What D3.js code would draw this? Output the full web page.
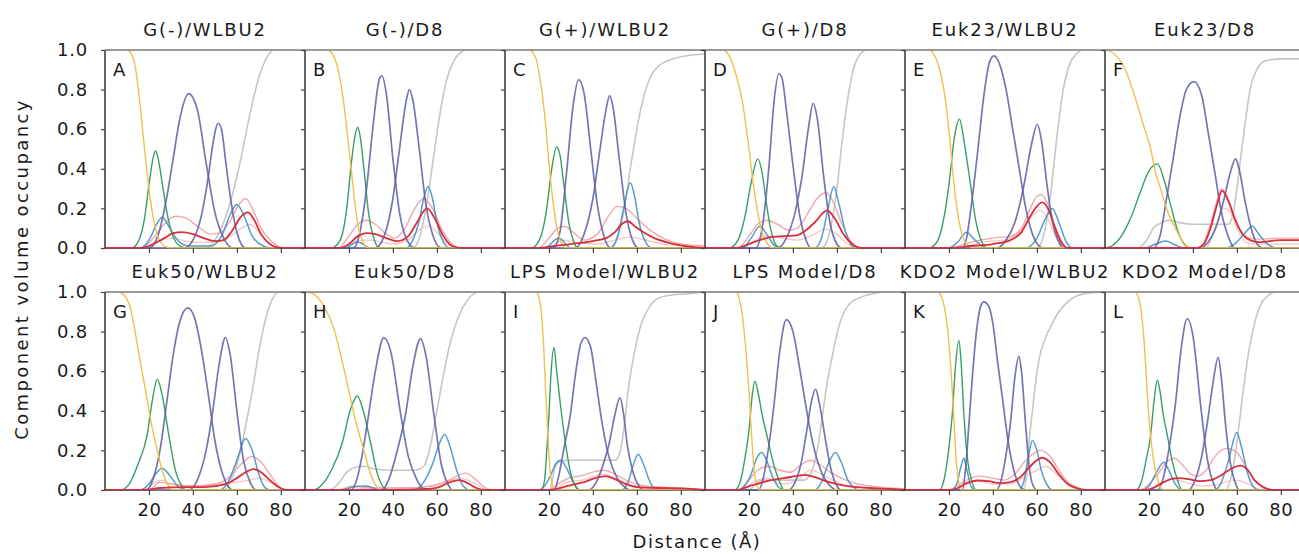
<!DOCTYPE html>
<html>
<head>
<meta charset="utf-8">
<script src="https://cdn.jsdelivr.net/npm/d3@7"></script>
<style>
body { margin: 0; background: #fff; }
text { font-family: "DejaVu Sans", sans-serif; fill: #1a1a1a; }
.axis path { display: none; }
.axis line { stroke: #444; stroke-width: 1.2; }
</style>
</head>
<body>
<div class="chart"></div>
<script>
// panel titles and letters, A..L
var titles = ["G(-)/WLBU2", "G(-)/D8", "G(+)/WLBU2", "G(+)/D8", "Euk23/WLBU2", "Euk23/D8",
              "Euk50/WLBU2", "Euk50/D8", "LPS Model/WLBU2", "LPS Model/D8", "KDO2 Model/WLBU2", "KDO2 Model/D8"];
var letters = ["A", "B", "C", "D", "E", "F", "G", "H", "I", "J", "K", "L"];
var xTicks = [20, 40, 60, 80];
var yTicks = [0, 0.2, 0.4, 0.6, 0.8, 1.0];

// each curve: [distance (A), occupancy], one entry per panel
var orangeCurves = [
  [[0,1],[10,1],[12,0.98],[14,0.9],[16,0.72],[18,0.5],[20,0.3],[22,0.15],[24,0.06],[27,0.01],[30,0],[91,0]],
  [[0,1],[10,1],[13,0.97],[16,0.85],[18,0.7],[20,0.5],[22,0.3],[24,0.12],[26,0.04],[29,0],[91,0]],
  [[0,1],[11,1],[14,0.96],[16,0.85],[18,0.68],[20,0.43],[22,0.22],[24,0.08],[26,0.02],[28,0],[91,0]],
  [[0,1],[8,1],[11,0.97],[14,0.88],[17,0.74],[20,0.5],[22,0.32],[24,0.18],[26,0.08],[28,0.03],[31,0],[91,0]],
  [[0,1],[11,1],[14,0.96],[16.5,0.87],[18.5,0.74],[20.8,0.5],[22.5,0.3],[24.5,0.14],[26.5,0.05],[29,0.01],[31,0],[91,0]],
  [[0,1],[3,0.99],[6,0.96],[10,0.88],[14,0.75],[17.5,0.62],[20.8,0.5],[23,0.38],[25.3,0.3],[28,0.2],[32,0.1],[35,0.04],[39,0],[91,0]],
  [[0,1],[6,1],[9,0.98],[12,0.9],[14,0.78],[16.5,0.62],[18.5,0.5],[21,0.34],[23.8,0.2],[26,0.1],[28,0.04],[31,0],[91,0]],
  [[0,1],[3,0.995],[6,0.97],[9,0.92],[13,0.82],[16.5,0.67],[20,0.5],[23,0.35],[26.8,0.2],[29,0.11],[31,0.05],[34,0],[91,0]],
  [[0,1],[14,1],[15.5,0.97],[16.5,0.9],[17.5,0.75],[18.5,0.5],[19.5,0.28],[20.5,0.1],[21.5,0.03],[22.5,0],[91,0]],
  [[0,1],[14,1],[15.5,0.97],[17,0.88],[18.5,0.72],[20,0.5],[21.2,0.28],[22.3,0.1],[23.5,0.03],[25,0],[91,0]],
  [[0,1],[15,1],[16.5,0.98],[18,0.92],[19.5,0.8],[21.5,0.5],[22.5,0.3],[23.3,0.15],[24.3,0.05],[25.5,0],[91,0]],
  [[0,1],[13.5,1],[15,0.98],[16.5,0.9],[18,0.72],[19.2,0.5],[20.5,0.3],[22,0.16],[23.8,0.06],[25.5,0.01],[27,0],[91,0]]
];

var greenCurves = [
  [[0,0],[12,0],[15,0.03],[18,0.15],[20,0.32],[22,0.46],[23,0.49],[24,0.46],[26,0.33],[28,0.19],[30,0.09],[33,0.02],[37,0],[91,0]],
  [[0,0],[12,0],[16,0.04],[19,0.2],[21,0.42],[23,0.58],[24,0.61],[25,0.57],[27,0.38],[29,0.17],[31,0.06],[34,0],[91,0]],
  [[0,0],[12,0],[16,0.05],[19,0.2],[21,0.38],[23.5,0.51],[25,0.47],[27,0.3],[29,0.13],[31,0.04],[33,0],[91,0]],
  [[0,0],[11,0],[15,0.04],[18,0.15],[21,0.33],[24,0.45],[26,0.38],[28,0.22],[30,0.09],[32,0.02],[34,0],[91,0]],
  [[0,0],[11,0],[15,0.04],[18,0.17],[20,0.32],[22.5,0.56],[24.8,0.65],[27,0.53],[29.8,0.32],[32,0.15],[35,0.03],[37,0],[91,0]],
  [[0,0],[3,0.01],[8,0.07],[12,0.16],[16,0.28],[20,0.39],[23.8,0.425],[27,0.34],[30,0.21],[33,0.09],[36,0.02],[39,0],[91,0]],
  [[0,0],[7,0],[11,0.03],[15,0.13],[19.2,0.28],[21.5,0.45],[23.8,0.56],[26,0.48],[29,0.28],[32,0.1],[35,0.02],[37,0],[91,0]],
  [[0,0],[4,0],[8,0.03],[12,0.1],[17,0.24],[20.5,0.4],[23.8,0.475],[26.5,0.4],[29.8,0.24],[33,0.08],[36,0.01],[38,0],[91,0]],
  [[0,0],[16.5,0],[18,0.05],[19,0.2],[20,0.38],[21,0.6],[22.3,0.72],[23.5,0.6],[26,0.36],[28,0.2],[30,0.08],[32,0.02],[34,0],[91,0]],
  [[0,0],[13.5,0],[16,0.04],[18,0.15],[20,0.3],[21.5,0.48],[22.7,0.55],[24,0.5],[26,0.38],[28.3,0.27],[31,0.14],[34,0.04],[36,0],[91,0]],
  [[0,0],[15.5,0],[17.5,0.04],[19.5,0.17],[21.5,0.38],[23,0.63],[24.5,0.755],[25.5,0.65],[26.8,0.38],[28.5,0.15],[30.5,0.04],[32.5,0],[91,0]],
  [[0,0],[14,0],[16.5,0.04],[18.5,0.14],[20.8,0.28],[22.5,0.47],[23.8,0.555],[25,0.5],[26.5,0.38],[28.3,0.28],[30.5,0.15],[33,0.05],[35,0],[91,0]]
];

var navyCurves1 = [
  [[0,0],[20,0],[24,0.06],[28,0.25],[31,0.45],[34,0.65],[38,0.78],[42,0.7],[46,0.43],[50,0.18],[54,0.05],[58,0],[91,0]],
  [[0,0],[22,0],[25,0.08],[28,0.3],[31,0.62],[34,0.86],[35,0.87],[37,0.78],[40,0.45],[43,0.18],[46,0.05],[50,0],[91,0]],
  [[0,0],[22,0],[25,0.08],[28,0.38],[31,0.72],[33.5,0.85],[36,0.78],[39,0.5],[42,0.22],[45,0.06],[48,0],[91,0]],
  [[0,0],[23,0],[26,0.1],[29,0.4],[31.5,0.75],[33.6,0.88],[35,0.86],[37,0.7],[40,0.42],[43,0.17],[46,0.04],[48,0],[91,0]],
  [[0,0],[26,0],[28,0.05],[30,0.2],[33,0.48],[36,0.78],[38.5,0.94],[40.5,0.97],[43,0.93],[46,0.8],[49,0.6],[52,0.4],[55,0.2],[58,0.07],[61,0.01],[63,0],[91,0]],
  [[0,0],[22,0],[25,0.06],[28,0.25],[31,0.45],[34,0.66],[37,0.8],[40.5,0.84],[44,0.77],[47,0.58],[50,0.38],[53,0.18],[56,0.06],[59,0],[91,0]],
  [[0,0],[19,0],[22,0.06],[25,0.2],[28.3,0.46],[31,0.68],[34,0.85],[37.7,0.92],[41,0.86],[44,0.7],[47.3,0.46],[50,0.25],[53,0.1],[56,0.02],[58,0],[91,0]],
  [[0,0],[21,0],[24,0.07],[27,0.24],[29,0.385],[32,0.6],[35.9,0.77],[39,0.7],[43.5,0.385],[47,0.17],[51,0.05],[55,0],[91,0]],
  [[0,0],[22.5,0],[24,0.05],[27,0.22],[29.8,0.385],[32,0.58],[34.5,0.74],[36.4,0.77],[39,0.72],[41,0.58],[43.5,0.385],[47,0.18],[51,0.06],[55,0.01],[57,0],[91,0]],
  [[0,0],[24.5,0],[26.5,0.06],[29,0.22],[31.4,0.43],[34,0.7],[37,0.86],[40,0.8],[43,0.62],[45.8,0.43],[49,0.24],[53,0.09],[57,0.02],[60,0],[91,0]],
  [[0,0],[26,0],[27.5,0.1],[29,0.32],[30.5,0.55],[32.5,0.8],[34.5,0.93],[35.9,0.95],[38,0.93],[40,0.84],[42,0.66],[44.2,0.475],[47,0.24],[50,0.08],[53,0.01],[55,0],[91,0]],
  [[0,0],[24,0],[26.5,0.06],[29,0.2],[32,0.43],[34.5,0.7],[37.4,0.865],[40,0.78],[43.5,0.43],[46.5,0.16],[49.5,0.03],[51,0],[91,0]]
];

var navyCurves2 = [
  [[0,0],[36,0],[40,0.04],[44,0.17],[47,0.36],[49,0.52],[51.5,0.63],[53,0.6],[55,0.43],[57,0.26],[60,0.08],[64,0],[91,0]],
  [[0,0],[32,0],[36,0.06],[40,0.25],[43,0.5],[46,0.74],[47.5,0.8],[49,0.75],[52,0.5],[55,0.22],[58,0.07],[62,0],[91,0]],
  [[0,0],[32,0],[36,0.07],[40,0.25],[43,0.48],[46,0.7],[47.6,0.77],[49,0.72],[52,0.45],[55,0.18],[58,0.04],[61,0],[91,0]],
  [[0,0],[33,0],[37,0.05],[41,0.18],[44,0.35],[47,0.6],[49.2,0.73],[51,0.66],[54,0.36],[57,0.12],[60,0.02],[62,0],[91,0]],
  [[0,0],[42,0],[46,0.04],[50,0.13],[54,0.31],[57.5,0.52],[60.2,0.625],[62,0.55],[64.7,0.31],[67,0.14],[70,0.03],[72,0],[91,0]],
  [[0,0],[43,0],[47,0.03],[51,0.12],[54,0.24],[57,0.38],[59.4,0.45],[61,0.4],[64,0.22],[67,0.08],[70,0.01],[72,0],[91,0]],
  [[0,0],[38,0],[42,0.05],[46,0.2],[48.8,0.38],[52,0.64],[54.8,0.77],[57,0.68],[60.2,0.38],[63,0.15],[66,0.04],[69,0],[91,0]],
  [[0,0],[35,0],[38,0.05],[42,0.2],[45.8,0.385],[49,0.62],[52.6,0.765],[55,0.68],[58.6,0.385],[62,0.13],[65,0.03],[67,0],[91,0]],
  [[0,0],[38,0],[42,0.05],[45,0.14],[47.3,0.23],[50,0.38],[52.3,0.465],[54,0.38],[55.6,0.23],[58,0.1],[61,0.02],[63,0],[91,0]],
  [[0,0],[38,0],[41,0.04],[44,0.15],[46,0.28],[48.5,0.45],[50.3,0.51],[52,0.44],[54.8,0.255],[57,0.12],[60,0.02],[62,0],[91,0]],
  [[0,0],[41.5,0],[44,0.06],[46,0.18],[48,0.34],[50,0.57],[51.8,0.675],[53,0.6],[54.8,0.34],[56.5,0.12],[58,0.03],[60,0],[91,0]],
  [[0,0],[38,0],[41,0.05],[44,0.17],[46.5,0.335],[49,0.53],[51.5,0.67],[53,0.56],[54.8,0.335],[57,0.14],[59.5,0.03],[61,0],[91,0]]
];

var grayCurves = [
  [[0,0],[46,0],[50,0.04],[54,0.13],[58,0.27],[62,0.46],[66,0.68],[70,0.86],[74,0.97],[77,1],[91,1]],
  [[0,0],[49,0],[52,0.05],[55,0.2],[58,0.42],[61,0.65],[64,0.83],[68,0.95],[72,0.995],[74,1],[91,1]],
  [[0,0],[48,0],[51,0.05],[54,0.18],[57,0.4],[60,0.6],[63,0.76],[66,0.86],[70,0.92],[75,0.95],[82,0.97],[91,0.98]],
  [[0,0],[53,0],[56,0.05],[58,0.15],[60,0.3],[62,0.5],[64,0.68],[67,0.88],[70,0.97],[74,1],[91,1]],
  [[0,0],[60,0],[63,0.06],[66,0.25],[69,0.55],[72,0.8],[75,0.93],[78,0.98],[81,1],[91,1]],
  [[0,0],[15,0],[19,0.04],[22,0.1],[26,0.13],[29,0.14],[33,0.13],[40,0.12],[50,0.12],[56,0.12],[58,0.16],[60,0.3],[62,0.48],[64,0.65],[66,0.8],[69,0.9],[73,0.945],[80,0.955],[91,0.955]],
  [[0,0],[54,0],[57,0.04],[60,0.13],[63,0.27],[67,0.5],[70,0.7],[73,0.86],[76,0.96],[79,1],[91,1]],
  [[0,0],[11,0],[15,0.03],[19,0.09],[23,0.115],[27,0.12],[32,0.105],[40,0.1],[50,0.1],[54,0.12],[57,0.22],[60,0.4],[63,0.58],[66,0.74],[70,0.88],[74,0.96],[79,1],[91,1]],
  [[0,0],[20.5,0],[21.5,0.05],[23,0.12],[25,0.145],[30,0.15],[40,0.15],[50,0.15],[52,0.18],[54,0.3],[56,0.5],[59,0.7],[62,0.84],[66,0.93],[70,0.97],[76,0.985],[82,0.99],[91,1]],
  [[0,0],[20,0],[23,0.03],[26,0.05],[35,0.05],[45,0.05],[48,0.08],[51,0.2],[53,0.34],[55,0.5],[58,0.68],[61,0.83],[65,0.93],[70,0.97],[76,0.99],[82,1],[91,1]],
  [[0,0],[54,0],[55.5,0.1],[56.5,0.25],[58,0.4],[59.5,0.55],[61,0.66],[64,0.77],[67,0.84],[70,0.9],[74,0.95],[78,0.98],[84,0.995],[91,1]],
  [[0,0],[55,0],[57,0.05],[59,0.16],[61,0.33],[63,0.51],[65,0.67],[68,0.84],[71,0.94],[74,0.98],[78,1],[91,1]]
];

var blueCurves = [
  [[0,0],[16,0],[20,0.04],[24,0.13],[26,0.155],[29,0.11],[33,0.04],[38,0.01],[48,0.01],[53,0.06],[57,0.17],[60,0.22],[63,0.17],[67,0.06],[72,0.01],[76,0],[91,0]],
  [[0,0],[18,0],[24,0.03],[30,0],[46,0],[49,0.04],[52,0.14],[54,0.25],[56,0.31],[58,0.25],[60,0.13],[63,0.03],[66,0],[91,0]],
  [[0,0],[18,0],[24.5,0.05],[30,0],[48,0],[51,0.05],[54,0.2],[57,0.33],[59,0.26],[61,0.13],[64,0.03],[67,0],[91,0]],
  [[0,0],[17,0],[21,0.05],[25,0.11],[28,0.07],[32,0.01],[36,0],[50,0],[53,0.05],[56,0.2],[58.6,0.31],[61,0.22],[64,0.08],[67,0.01],[70,0],[91,0]],
  [[0,0],[20,0],[24,0.03],[28,0.08],[31,0.05],[35,0.01],[38,0],[55,0],[60,0.05],[64,0.15],[67,0.2],[70,0.13],[73,0.04],[76,0],[91,0]],
  [[0,0],[18,0],[23,0.02],[27.6,0.035],[32,0.015],[36,0],[55,0],[60,0.03],[64,0.08],[67,0.11],[70,0.07],[74,0.02],[78,0],[91,0]],
  [[0,0],[16,0],[20,0.03],[23,0.08],[26,0.11],[29,0.08],[33,0.02],[37,0],[52,0],[56,0.04],[60,0.15],[64,0.26],[67,0.2],[70,0.08],[73,0.01],[76,0],[91,0]],
  [[0,0],[16,0],[22,0.015],[28,0.02],[34,0],[50,0],[54,0.04],[58,0.13],[61,0.23],[63.5,0.28],[66,0.22],[69,0.1],[72,0.02],[75,0],[91,0]],
  [[0,0],[15,0],[18,0.02],[21,0.08],[23,0.13],[25.3,0.15],[28,0.11],[31,0.04],[34,0],[53,0],[56,0.04],[58.5,0.13],[60.6,0.18],[63,0.13],[66,0.04],[69,0],[91,0]],
  [[0,0],[15,0],[18,0.02],[21,0.08],[23.5,0.16],[25.8,0.19],[28,0.15],[31,0.06],[34,0.01],[37,0],[50,0],[53,0.04],[56,0.13],[59.4,0.19],[62,0.14],[65,0.05],[68,0.01],[70,0],[91,0]],
  [[0,0],[21,0],[23.5,0.03],[25.5,0.12],[26.8,0.16],[28,0.11],[30,0.02],[32,0],[52,0],[54,0.04],[56,0.16],[58,0.25],[60,0.2],[62,0.1],[65,0.02],[67,0],[91,0]],
  [[0,0],[17,0],[20,0.02],[23,0.08],[26.8,0.14],[29,0.1],[32,0.03],[35,0],[50,0],[53,0.04],[56,0.14],[60,0.29],[62,0.22],[65,0.08],[68,0.01],[70,0],[91,0]]
];

var redCurves = [
  [[0,0],[16,0],[22,0.02],[27,0.05],[31,0.075],[35,0.08],[40,0.07],[45,0.05],[50,0.035],[54,0.04],[58,0.09],[62,0.16],[65,0.18],[68,0.14],[71,0.07],[75,0.02],[80,0],[91,0]],
  [[0,0],[16,0],[20,0.02],[24,0.06],[28,0.075],[32,0.07],[37,0.05],[42,0.035],[47,0.06],[51,0.13],[55.5,0.2],[59,0.15],[63,0.06],[67,0.01],[72,0],[91,0]],
  [[0,0],[15,0],[22,0.01],[30,0.02],[40,0.035],[46,0.05],[50,0.08],[53,0.12],[56,0.135],[59,0.11],[63,0.08],[68,0.05],[75,0.025],[82,0.01],[91,0]],
  [[0,0],[14,0],[20,0.02],[25,0.04],[30,0.055],[36,0.06],[42,0.065],[46,0.09],[50,0.13],[55.6,0.19],[59,0.15],[63,0.07],[67,0.02],[71,0],[91,0]],
  [[0,0],[20,0],[30,0.01],[40,0.02],[48,0.04],[53,0.08],[57,0.16],[60,0.21],[62.4,0.23],[65,0.2],[68,0.11],[71,0.03],[74,0],[91,0]],
  [[0,0],[42,0],[45,0.02],[48,0.1],[51,0.22],[53.3,0.29],[56,0.24],[59,0.15],[62,0.08],[66,0.04],[70,0.03],[80,0.04],[91,0.04]],
  [[0,0],[18,0],[25,0.01],[35,0.015],[45,0.015],[55,0.03],[60,0.06],[64,0.09],[67.7,0.105],[71,0.09],[75,0.05],[79,0.015],[82,0],[91,0]],
  [[0,0],[40,0],[55,0.005],[61,0.015],[66,0.04],[70,0.05],[74,0.035],[78,0.01],[82,0],[91,0]],
  [[0,0],[20,0],[25,0.01],[30,0.025],[36,0.04],[41,0.06],[45.8,0.07],[50,0.055],[55,0.03],[60,0.015],[70,0.01],[80,0.008],[91,0]],
  [[0,0],[15,0],[20,0.02],[25,0.035],[30,0.05],[36,0.06],[41,0.07],[45.5,0.076],[50,0.065],[55,0.045],[60,0.03],[65,0.02],[75,0.01],[85,0.005],[91,0]],
  [[0,0],[20,0],[24,0.01],[28,0.035],[33,0.048],[38,0.045],[43,0.035],[48,0.04],[53,0.07],[57,0.12],[62.4,0.163],[66,0.14],[70,0.08],[74,0.03],[78,0.01],[82,0],[91,0]],
  [[0,0],[18,0],[22,0.01],[26,0.035],[30,0.055],[33,0.06],[38,0.055],[43,0.045],[48,0.05],[53,0.075],[57,0.105],[61.7,0.123],[65,0.1],[68,0.05],[72,0.015],[76,0],[91,0]]
];

var pinkCurves = [
  [[0,0],[16,0],[22,0.05],[27,0.12],[32,0.16],[36,0.155],[42,0.11],[48,0.07],[53,0.08],[57,0.14],[61,0.22],[64,0.25],[67,0.2],[71,0.1],[76,0.03],[82,0],[91,0]],
  [[0,0],[15,0],[20,0.06],[24,0.12],[28,0.14],[32,0.12],[37,0.07],[41,0.05],[45,0.09],[50,0.2],[54,0.25],[58,0.2],[62,0.1],[66,0.03],[70,0],[91,0]],
  [[0,0],[15,0],[20,0.05],[24,0.1],[27,0.11],[31,0.08],[36,0.04],[42,0.07],[47,0.16],[51,0.21],[55,0.2],[60,0.15],[66,0.09],[72,0.05],[80,0.02],[91,0.01]],
  [[0,0],[15,0],[20,0.06],[24,0.12],[28,0.14],[33,0.12],[38,0.09],[42,0.1],[47,0.18],[51,0.25],[55,0.28],[58,0.24],[62,0.13],[66,0.04],[70,0],[91,0]],
  [[0,0],[20,0],[30,0.03],[40,0.05],[48,0.06],[53,0.1],[57,0.2],[60,0.26],[62,0.27],[65,0.22],[68,0.12],[71,0.04],[74,0],[91,0]],
  [[0,0],[42,0],[45,0.03],[48,0.12],[51,0.24],[53,0.3],[56,0.25],[59,0.15],[62,0.08],[66,0.05],[70,0.045],[80,0.05],[91,0.05]],
  [[0,0],[20,0],[25,0.04],[30,0.03],[40,0.02],[50,0.03],[56,0.06],[61,0.12],[67,0.17],[71,0.14],[75,0.08],[79,0.02],[83,0],[91,0]],
  [[0,0],[15,0],[22,0.02],[30,0.01],[45,0.01],[58,0.02],[64,0.04],[69,0.07],[73,0.085],[77,0.06],[81,0.02],[85,0],[91,0]],
  [[0,0],[20,0],[24,0.03],[29,0.06],[34,0.07],[40,0.09],[45,0.1],[50,0.08],[55,0.05],[60,0.03],[70,0.015],[80,0.01],[91,0]],
  [[0,0],[15,0],[20,0.05],[24,0.1],[29,0.12],[34,0.1],[39,0.09],[44,0.13],[48,0.15],[52,0.13],[57,0.09],[62,0.06],[68,0.035],[75,0.02],[85,0.01],[91,0.005]],
  [[0,0],[20,0],[25,0.03],[30,0.06],[34,0.07],[40,0.06],[45,0.05],[50,0.08],[55,0.15],[61.7,0.2],[66,0.17],[70,0.1],[74,0.04],[79,0.01],[84,0],[91,0]],
  [[0,0],[16,0],[20,0.03],[24,0.08],[28,0.14],[31.4,0.16],[35,0.13],[39,0.08],[42,0.07],[46,0.1],[50,0.17],[55.6,0.21],[60,0.19],[64,0.12],[68,0.05],[72,0.01],[75,0],[91,0]]
];

var paleCurves = [
  [[0,0],[18,0],[25,0.04],[30,0.05],[40,0.03],[50,0.03],[57,0.06],[62,0.1],[66,0.12],[70,0.08],[75,0.02],[80,0],[91,0]],
  [[0,0],[18,0],[24,0.04],[30,0.04],[40,0.02],[48,0.05],[53,0.1],[56,0.11],[60,0.08],[65,0.02],[70,0],[91,0]],
  [[0,0],[20,0],[26,0.04],[32,0.03],[42,0.02],[50,0.04],[57,0.055],[64,0.04],[72,0.02],[82,0.01],[91,0]],
  [[0,0],[17,0],[23,0.04],[28,0.06],[35,0.05],[42,0.04],[48,0.06],[55,0.095],[60,0.07],[65,0.02],[70,0],[91,0]],
  [[0,0],[25,0],[35,0.03],[45,0.04],[52,0.08],[57,0.15],[61.5,0.19],[65,0.15],[68,0.07],[72,0.01],[75,0],[91,0]],
  [[0,0],[46,0],[50,0.1],[54,0.2],[57,0.18],[60,0.1],[64,0.03],[70,0.02],[91,0.02]],
  [[0,0],[18,0],[23,0.04],[26,0.05],[30,0.03],[40,0.02],[52,0.03],[60,0.04],[66,0.05],[70,0.06],[75,0.04],[80,0.01],[84,0],[91,0]],
  [[0,0],[20,0],[30,0.01],[50,0.01],[60,0.03],[66,0.05],[71,0.06],[76,0.04],[81,0.01],[85,0],[91,0]],
  [[0,0],[22,0],[28,0.04],[35,0.05],[45,0.08],[52,0.05],[60,0.02],[75,0.01],[91,0]],
  [[0,0],[17,0],[22,0.04],[28,0.06],[35,0.03],[42,0.05],[48,0.1],[53,0.08],[58,0.05],[65,0.02],[75,0.01],[91,0]],
  [[0,0],[22,0],[28,0.03],[33,0.05],[40,0.03],[48,0.03],[55,0.07],[60,0.1],[64,0.12],[68,0.09],[73,0.04],[78,0.01],[83,0],[91,0]],
  [[0,0],[18,0],[24,0.03],[30,0.055],[36,0.04],[44,0.02],[52,0.03],[58,0.05],[62,0.045],[67,0.02],[72,0],[91,0]]
];

var W = 1299, H = 554;
var panelW = 200, panelH = 198;
var left0 = 105, rowTops = [50, 292];

// drawing order, back to front
var layers = [
  {curves: grayCurves,   color: "#c6c6c6", width: 1.6, opacity: 1},
  {curves: paleCurves,   color: "#f4c4c7", width: 1.3, opacity: 1},
  {curves: pinkCurves,   color: "#f1a6ac", width: 1.4, opacity: 1},
  {curves: blueCurves,   color: "#4591c6", width: 1.5, opacity: 0.9},
  {curves: greenCurves,  color: "#36a062", width: 1.4, opacity: 1},
  {curves: navyCurves1,  color: "#5a5ea6", width: 1.7, opacity: 0.85},
  {curves: navyCurves2,  color: "#5a5ea6", width: 1.7, opacity: 0.85},
  {curves: orangeCurves, color: "#f2bf4c", width: 1.4, opacity: 1},
  {curves: redCurves,    color: "#d7303b", width: 1.8, opacity: 1}
];

var svg = d3.select(".chart").append("svg")
    .attr("width", W)
    .attr("height", H);

svg.append("defs").append("clipPath")
    .attr("id", "panelClip")
  .append("rect")
    .attr("x", 0).attr("y", -3)
    .attr("width", panelW).attr("height", panelH + 6);

var x = d3.scaleLinear().domain([0, 91]).range([0, panelW]);
var y = d3.scaleLinear().domain([0, 1]).range([panelH, 0]);

var line = d3.line()
    .x(function(d) { return x(d[0]); })
    .y(function(d) { return y(d[1]); })
    .curve(d3.curveMonotoneX);

function panelPos(i) {
  return [left0 + (i % 6) * panelW, rowTops[Math.floor(i / 6)]];
}

// curves first, so borders and ticks of the next panel sit on top
titles.forEach(function(title, i) {
  var p = panelPos(i);
  var g = svg.append("g")
      .attr("transform", "translate(" + p[0] + "," + p[1] + ")")
      .attr("clip-path", "url(#panelClip)");
  layers.forEach(function(layer) {
    g.append("path")
      .attr("d", line(layer.curves[i]))
      .attr("fill", "none")
      .attr("stroke", layer.color)
      .attr("stroke-width", layer.width)
      .attr("stroke-opacity", layer.opacity)
      .attr("stroke-linejoin", "round");
  });
});

titles.forEach(function(title, i) {
  var p = panelPos(i);
  var row = Math.floor(i / 6), col = i % 6;
  var g = svg.append("g")
      .attr("transform", "translate(" + p[0] + "," + p[1] + ")");

  // frame: grey top, dark grey bottom, dark left edge
  g.append("line").attr("x1", 0).attr("x2", panelW).attr("y1", 0).attr("y2", 0)
      .attr("stroke", "#9a9a9a").attr("stroke-width", 2);
  g.append("line").attr("x1", 0).attr("x2", panelW).attr("y1", panelH + 0.5).attr("y2", panelH + 0.5)
      .attr("stroke", "#4d5a60").attr("stroke-width", 1.2).attr("stroke-opacity", 0.6);
  g.append("line").attr("x1", 0).attr("x2", 0).attr("y1", 0).attr("y2", panelH)
      .attr("stroke", "#333").attr("stroke-width", 1.5);

  var yAxis = d3.axisLeft(y).tickValues(yTicks).tickSize(4).tickPadding(13)
      .tickFormat(col == 0 ? d3.format(".1f") : "");
  g.append("g").attr("class", "axis").call(yAxis)
    .selectAll("text")
      .style("font-size", "18px")
      .style("letter-spacing", "0.8px")
      .attr("fill", "#1a1a1a");

  var xAxis = d3.axisBottom(x).tickValues(xTicks).tickSize(5).tickPadding(8)
      .tickFormat(row == 1 ? d3.format("d") : "");
  g.append("g").attr("class", "axis")
      .attr("transform", "translate(0," + panelH + ")")
      .call(xAxis)
    .selectAll("text")
      .style("font-size", "18px")
      .style("letter-spacing", "0.5px")
      .attr("fill", "#1a1a1a");

  g.append("text")
      .attr("x", 8).attr("y", 26)
      .style("font-size", "18px")
      .text(letters[i]);

  g.append("text")
      .attr("x", panelW / 2).attr("y", -14)
      .attr("text-anchor", "middle")
      .style("font-size", "18px")
      .style("letter-spacing", "1.8px")
      .text(title);
});

svg.append("text")
    .attr("transform", "translate(28,269) rotate(-90)")
    .attr("text-anchor", "middle")
    .style("font-size", "18px")
    .style("letter-spacing", "2.4px")
    .text("Component volume occupancy");

svg.append("text")
    .attr("x", 697).attr("y", 548)
    .attr("text-anchor", "middle")
    .style("font-size", "18px")
    .style("letter-spacing", "1.5px")
    .text("Distance (Å)");
</script>
</body>
</html>
